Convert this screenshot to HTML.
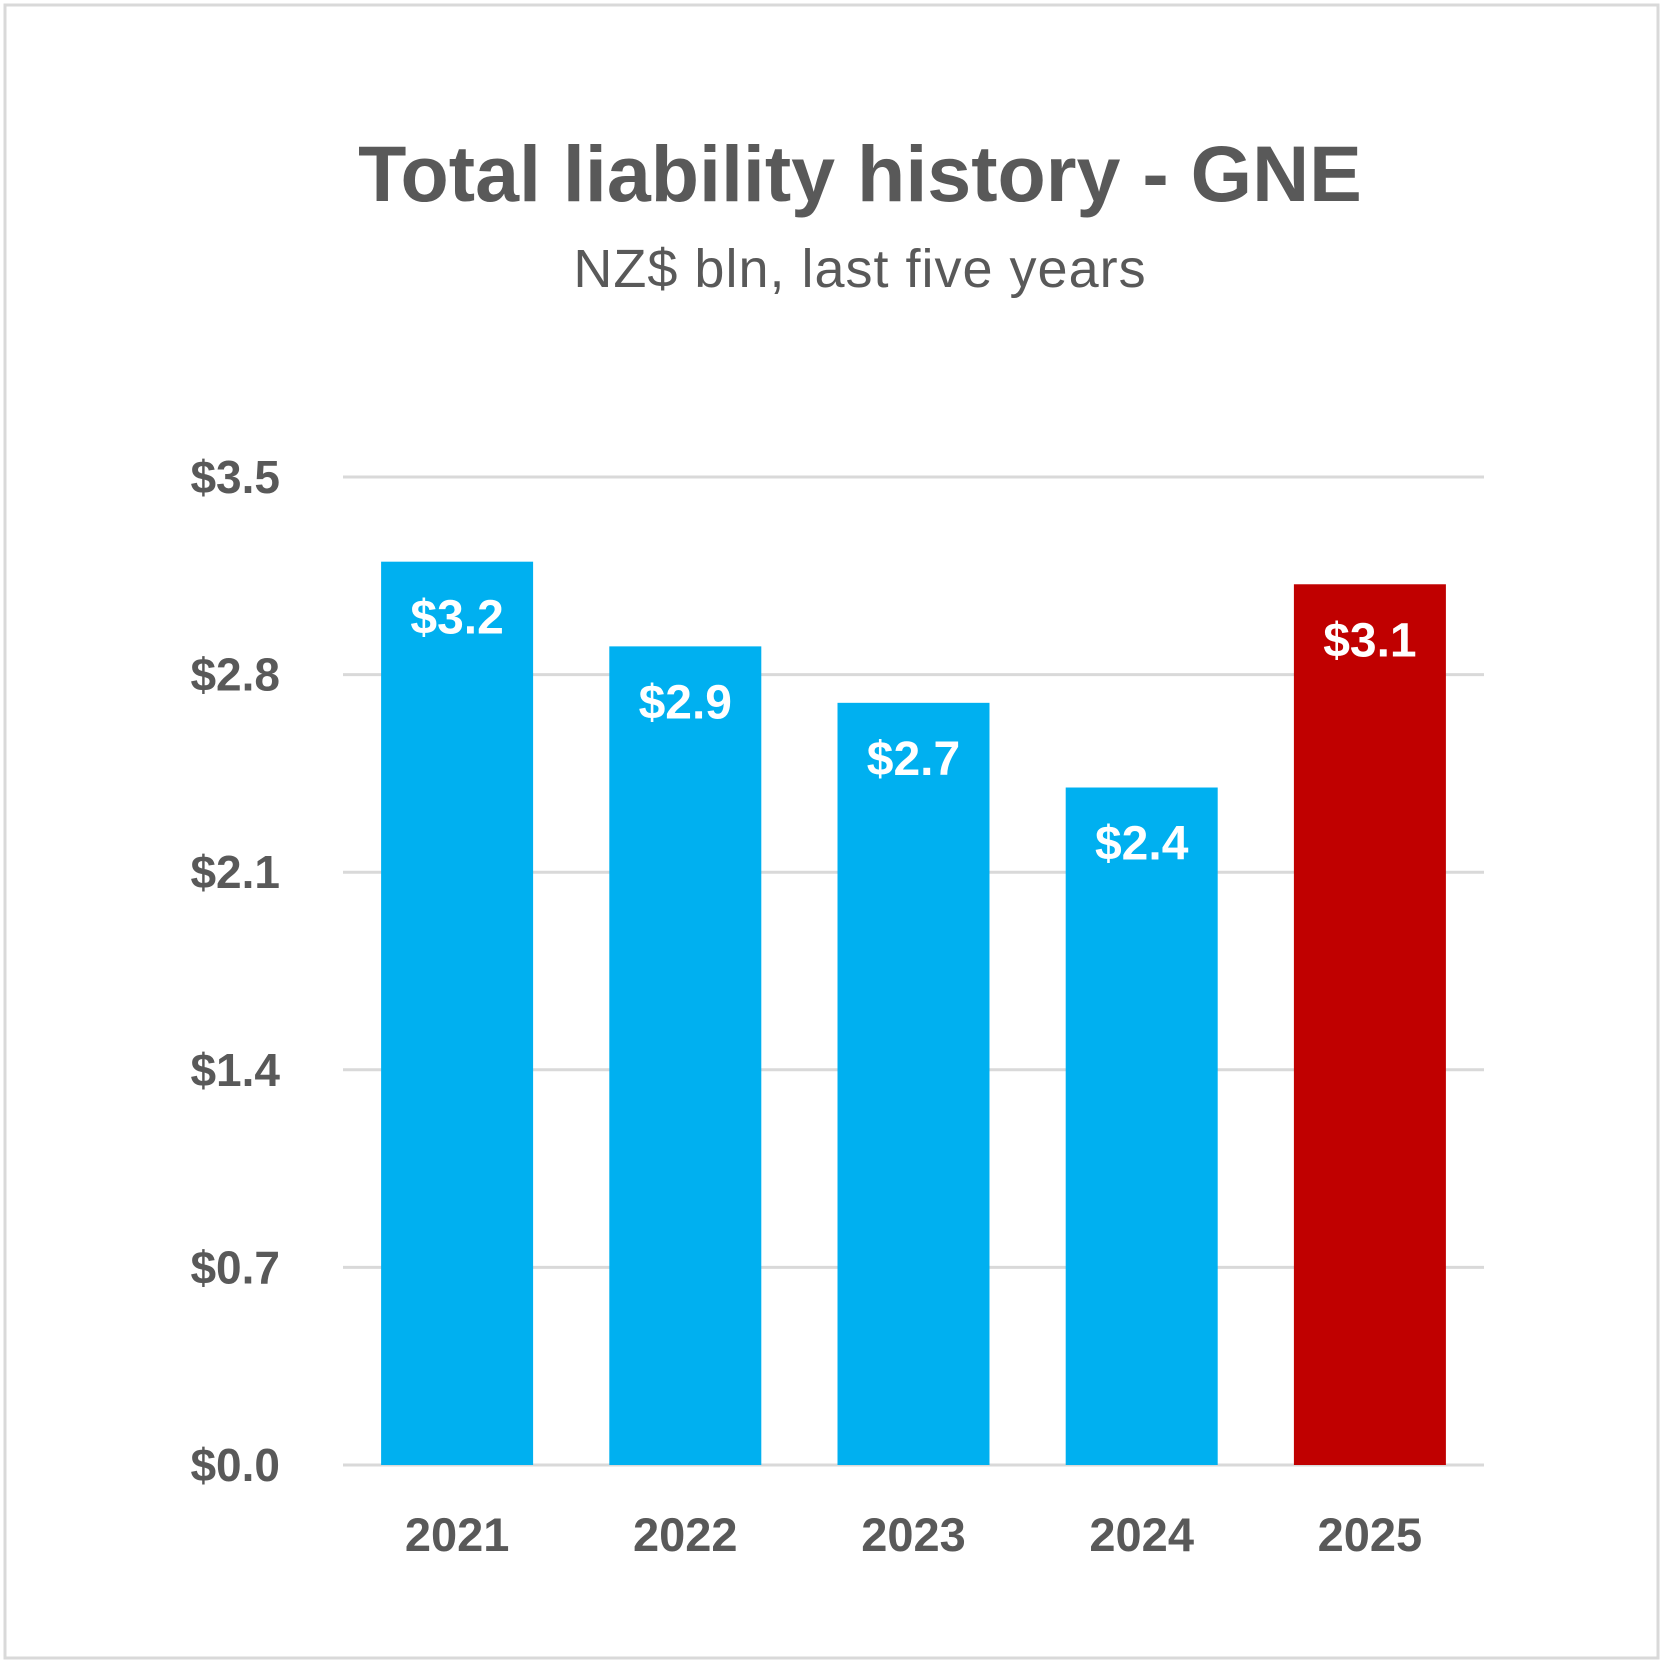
<!DOCTYPE html>
<html><head><meta charset="utf-8">
<style>
html,body{margin:0;padding:0;background:#fff;}
body{width:1663px;height:1663px;overflow:hidden;font-family:"Liberation Sans",sans-serif;}
svg text{font-family:"Liberation Sans",sans-serif;}
</style></head>
<body>
<svg id="chart" width="1663" height="1663" xmlns="http://www.w3.org/2000/svg">
<rect x="5" y="5" width="1653" height="1653" fill="#fff" stroke="#d9d9d9" stroke-width="3"/>
<text x="860" y="201" text-anchor="middle" font-size="79" font-weight="bold" fill="#595959">Total liability history - GNE</text>
<text x="860" y="287" text-anchor="middle" font-size="54" letter-spacing="1" fill="#595959">NZ$ bln, last five years</text>
<g id="grid"></g><g id="bars"></g><g id="labels"></g>
</svg>
<script>
const categories=["2021","2022","2023","2024","2025"];
const values=[3.2,2.9,2.7,2.4,3.12];
const valueLabels=["$3.2","$2.9","$2.7","$2.4","$3.1"];
const ticks=[0,0.7,1.4,2.1,2.8,3.5];
const tickLabels=["$0.0","$0.7","$1.4","$2.1","$2.8","$3.5"];
const colors=["#00b0f0","#00b0f0","#00b0f0","#00b0f0","#c00000"];
const NS="http://www.w3.org/2000/svg";
const plotL=343,plotR=1484,y0=1465,y1=477,yMax=3.5;
const y=v=>y0-(v/yMax)*(y0-y1);
const band=(plotR-plotL)/categories.length;
const bw=152;
const x=i=>plotL+band*i+band/2;
function mk(tag,attrs,parent,txt){const e=document.createElementNS(NS,tag);for(const k in attrs)e.setAttribute(k,attrs[k]);if(txt!==undefined)e.textContent=txt;document.getElementById(parent).appendChild(e);return e;}
ticks.forEach((t,i)=>{
 const l=mk('line',{x1:plotL,x2:plotR,y1:y(t),y2:y(t),stroke:'#d9d9d9','stroke-width':3},'grid');
 
 
 const tx=mk('text',{x:280,y:y(t)+16,'text-anchor':'end','font-size':46,'font-weight':'bold',fill:'#595959'},'labels',tickLabels[i]);
 
 
});
categories.forEach((c,i)=>{
 const r=mk('rect',{x:x(i)-bw/2,y:y(values[i]),width:bw,height:y0-y(values[i]),fill:colors[i]},'bars');
 
 
 const v=mk('text',{x:x(i),y:y(values[i])+72,'text-anchor':'middle','font-size':48,'font-weight':'bold',fill:'#fff'},'labels',valueLabels[i]);
 
 
 const cl=mk('text',{x:x(i),y:1551,'text-anchor':'middle','font-size':47,'font-weight':'bold',fill:'#595959'},'labels',c);
 
 
});
</script>
</body></html>
